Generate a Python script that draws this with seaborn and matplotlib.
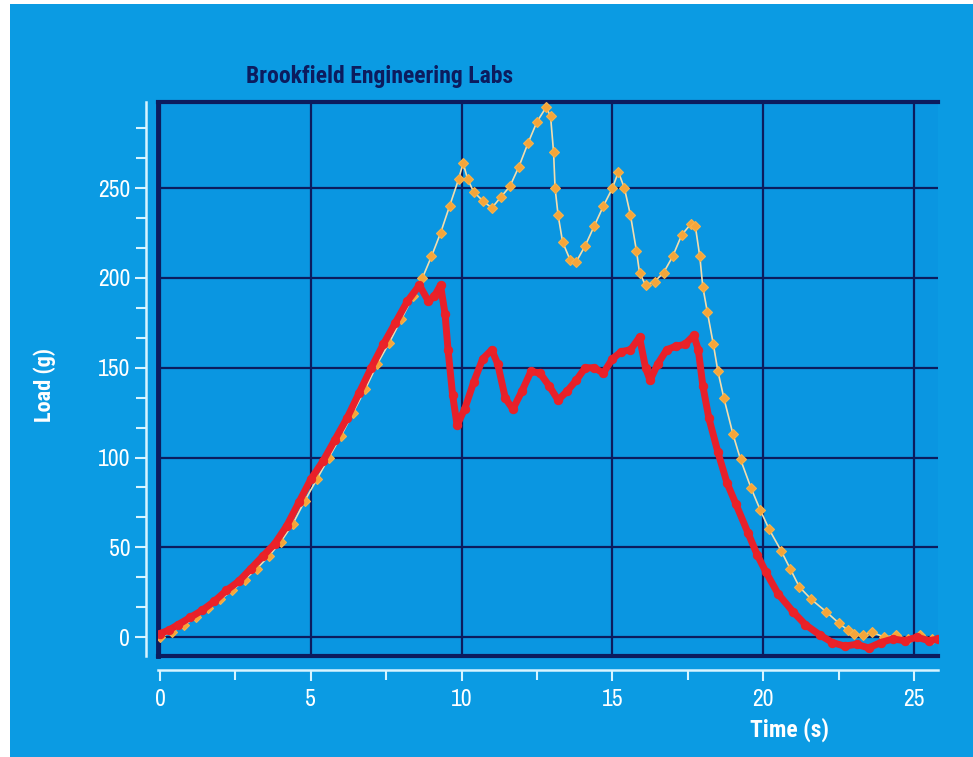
import matplotlib
matplotlib.use("Agg")
import matplotlib.pyplot as plt
import seaborn as sns
import pandas as pd
from matplotlib.patches import Rectangle
from matplotlib.ticker import MultipleLocator
from matplotlib import font_manager as fm

# ---- data ----
red_time = [0.0, 0.3, 0.6, 1.0, 1.4, 1.8, 2.2, 2.6, 3.0, 3.4, 3.8, 4.2, 4.6, 5.0, 5.4, 5.8,
            6.2, 6.6, 7.0, 7.4, 7.8, 8.2, 8.6, 8.9, 9.1, 9.3, 9.45, 9.55, 9.7, 9.85, 10.1,
            10.4, 10.7, 11.0, 11.2, 11.45, 11.7, 12.0, 12.3, 12.6, 12.9, 13.2, 13.5, 13.8,
            14.1, 14.4, 14.7, 15.0, 15.3, 15.6, 15.9, 16.1, 16.25, 16.5, 16.8, 17.1, 17.4,
            17.7, 17.85, 18.0, 18.2, 18.5, 18.8, 19.1, 19.5, 19.8, 20.1, 20.5, 21.0, 21.4,
            21.9, 22.3, 22.7, 23.1, 23.5, 23.9, 24.3, 24.7, 25.1, 25.5, 25.8]
red_load = [2, 4, 7, 11, 15, 20, 26, 31, 38, 45, 52, 62, 75, 88, 98, 110,
            122, 136, 150, 163, 175, 187, 196, 187, 190, 196, 180, 160, 135, 118, 127,
            142, 155, 160, 152, 133, 127, 137, 148, 147, 140, 132, 137, 143,
            150, 150, 147, 155, 159, 160, 167, 150, 143, 152, 160, 162, 163,
            168, 160, 140, 122, 103, 86, 74, 58, 46, 36, 24, 14, 7,
            1, -3, -5, -4, -6, -3, -1, -2, 0, -2, -1]

orange_time = [0.0, 0.4, 0.8, 1.2, 1.6, 2.0, 2.4, 2.8, 3.2, 3.6, 4.0, 4.4, 4.8, 5.2, 5.6,
               6.0, 6.4, 6.8, 7.2, 7.6, 8.0, 8.4, 8.7, 9.0, 9.3, 9.6, 9.9, 10.05, 10.2,
               10.4, 10.7, 11.0, 11.3, 11.6, 11.9, 12.2, 12.5, 12.8, 12.95, 13.05, 13.1,
               13.2, 13.35, 13.6, 13.8, 14.1, 14.4, 14.7, 15.0, 15.2, 15.4, 15.6, 15.8,
               15.9, 16.1, 16.4, 16.7, 17.0, 17.3, 17.6, 17.75, 17.9, 18.0, 18.15, 18.35,
               18.5, 18.7, 19.0, 19.25, 19.6, 19.9, 20.2, 20.6, 20.9, 21.2, 21.6, 22.1,
               22.5, 22.8, 23.0, 23.3, 23.6, 24.0, 24.4, 24.8, 25.2, 25.6]
orange_load = [0, 3, 7, 11, 16, 21, 26, 32, 38, 45, 53, 63, 76, 88, 100,
               112, 125, 138, 152, 164, 177, 190, 200, 212, 225, 240, 255, 264, 255,
               248, 243, 239, 245, 251, 262, 275, 287, 295, 290, 270, 250,
               235, 220, 210, 209, 218, 229, 240, 250, 259, 250, 235, 215,
               203, 196, 198, 203, 212, 224, 230, 229, 212, 195, 181, 163,
               148, 133, 113, 99, 83, 71, 60, 48, 38, 28, 21, 14,
               8, 4, 2, 1, 3, 0, 1, -1, 1, -1]

x_ticks = [0, 5, 10, 15, 20, 25]
y_ticks = [0, 50, 100, 150, 200, 250]

# ---- styling ----
sns.set_style("white")


def _w(f):
    w = f.weight
    if isinstance(w, str):
        return {"bold": 700, "heavy": 800, "black": 900, "semibold": 600,
                "demibold": 600, "extra bold": 800, "ultrabold": 800}.get(w, 400)
    return int(w)


names = {f.name for f in fm.fontManager.ttflist}
bold_names = {f.name for f in fm.fontManager.ttflist if _w(f) >= 700}
narrow = (["Archivo Narrow"] if "Archivo Narrow" in names else []) + \
    ["Liberation Sans", "DejaVu Sans"]
bold_cands = ["Archivo Narrow", "Roboto Condensed", "Barlow Semi Condensed",
              "Barlow Condensed", "Encode Sans Condensed", "Asap Condensed",
              "Fira Sans Condensed", "Cabin Condensed"]
bold_font = [n for n in bold_cands if n in bold_names][:1] + ["Liberation Sans", "DejaVu Sans"]
plt.rcParams["font.family"] = narrow

BG = "#0B9BE3"
PLOT_BG = "#0A96E1"
NAVY = "#0C1C5E"
AXIS_LIGHT = "#D8F4FF"

fig = plt.figure(figsize=(9.73, 7.57), dpi=100, facecolor="white")
fig.patches.append(Rectangle((10 / 973, 0), 1 - 10 / 973, 1 - 4 / 757,
                             transform=fig.transFigure, facecolor=BG,
                             edgecolor="none", zorder=-10))

rect = [158 / 973, 1 - 656 / 757, (938 - 158) / 973, (656 - 102) / 757]
ax = fig.add_axes(rect)
ax.set_facecolor(PLOT_BG)

df_o = pd.DataFrame({"t": orange_time, "load": orange_load})
df_r = pd.DataFrame({"t": red_time, "load": red_load})

sns.lineplot(data=df_o, x="t", y="load", ax=ax, color="#F2DDAE", linewidth=1.2,
             marker="D", markersize=5.5, markerfacecolor="#F5A53A",
             markeredgecolor="#F7B24A", markeredgewidth=0.8, zorder=3, sort=False)
sns.lineplot(data=df_r, x="t", y="load", ax=ax, color="#E8202A", linewidth=5,
             marker="o", markersize=6, markerfacecolor="#EA2228",
             markeredgecolor="#EA2228", zorder=4, sort=False)

ax.set_xlim(-0.07, 25.8)
ax.set_ylim(-10.5, 298)

ax.set_xticks(x_ticks)
ax.set_yticks(y_ticks)
ax.grid(True, color=NAVY, linewidth=1.6)
ax.tick_params(left=False, bottom=False, labelleft=False, labelbottom=False)
for side, s in ax.spines.items():
    s.set_visible(side != "right")
    s.set_color(NAVY)
    s.set_linewidth(3.5 if side == "left" else 3)
ax.set_xlabel("")
ax.set_ylabel("")

ax2 = fig.add_axes(rect, sharex=ax, sharey=ax)
ax2.patch.set_alpha(0)
for side in ["top", "right"]:
    ax2.spines[side].set_visible(False)
ax2.spines["left"].set_position(("outward", 9))
ax2.spines["bottom"].set_position(("outward", 10))
for side in ["left", "bottom"]:
    ax2.spines[side].set_visible(True)
    ax2.spines[side].set_color(AXIS_LIGHT)
    ax2.spines[side].set_linewidth(1.8)
ax2.xaxis.set_minor_locator(MultipleLocator(2.5))
ax2.yaxis.set_minor_locator(MultipleLocator(50 / 3))
ax2.tick_params(axis="both", which="both", direction="out", color=AXIS_LIGHT,
                width=1.5, labelcolor="white", labelsize=17,
                left=True, bottom=True, top=False, right=False)
ax2.tick_params(axis="both", which="major", length=8)
ax2.tick_params(axis="both", which="minor", length=7)
ax2.tick_params(axis="x", pad=6)
ax2.tick_params(axis="y", pad=3)
ax2.grid(False)
ax2.set_xticks(x_ticks)
ax2.set_yticks(y_ticks)
ax2.set_xlim(-0.07, 25.8)
ax2.set_ylim(-10.5, 298)

fig.text(380 / 973, 1 - 76 / 757, "Brookfield Engineering Labs", ha="center",
         va="center", fontsize=17, fontweight="bold", color=NAVY, family=bold_font)
fig.text(790 / 973, 1 - 730 / 757, "Time (s)", ha="center", va="center",
         fontsize=17, fontweight="bold", color="white", family=bold_font)
fig.text(45 / 973, 1 - 385 / 757, "Load (g)", ha="center", va="center",
         rotation=90, fontsize=16, fontweight="bold", color="white", family=bold_font)

fig.savefig("out.png", dpi=100, facecolor=fig.get_facecolor())
